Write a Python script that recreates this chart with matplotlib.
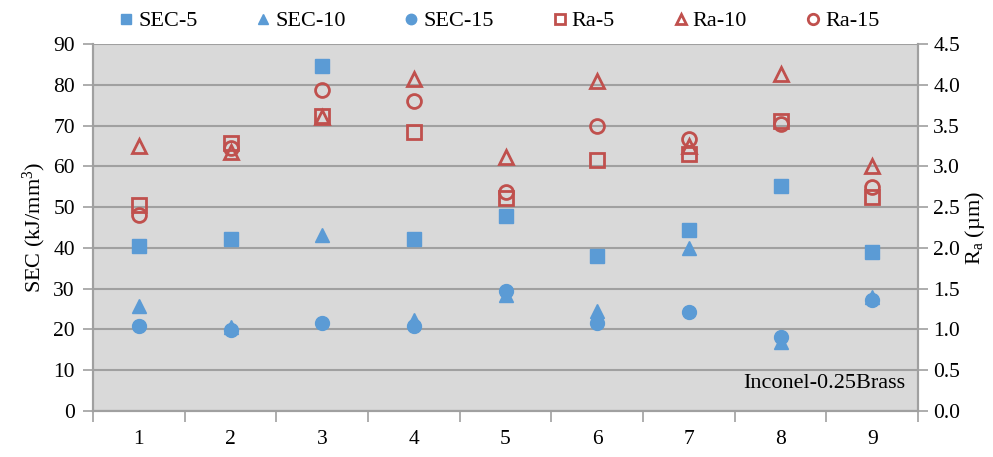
import matplotlib.pyplot as plt
import numpy as np

plt.rcParams['font.family'] = ['Liberation Serif', 'DejaVu Serif']
plt.rcParams['mathtext.default'] = 'regular'

# data
runs = [1, 2, 3, 4, 5, 6, 7, 8, 9]
sec_5 = [40.4, 42.2, 84.6, 42.1, 47.7, 37.9, 44.3, 55.1, 39.1]
sec_10 = [25.7, 20.5, 43.2, 22.3, 28.5, 24.4, 40.0, 17.0, 28.0]
sec_15 = [20.8, 19.9, 21.5, 20.9, 29.5, 21.5, 24.2, 18.2, 27.2]
ra_5 = [2.53, 3.29, 3.62, 3.42, 2.61, 3.08, 3.15, 3.55, 2.63]
ra_10 = [3.25, 3.18, 3.60, 4.07, 3.12, 4.05, 3.25, 4.13, 3.00]
ra_15 = [2.40, 3.22, 3.94, 3.80, 2.68, 3.49, 3.33, 3.52, 2.75]

blue = '#5b9bd5'
red = '#c0504d'
grid_c = '#a0a0a0'

fig = plt.figure(figsize=(9.93, 4.57), dpi=100)
ax = fig.add_axes([0.0937, 0.1007, 0.8308, 0.803])
ax2 = ax.twinx()
ax.set_zorder(ax2.get_zorder() - 1)
ax2.patch.set_visible(False)
ax.set_facecolor('#d9d9d9')

h = []
h += ax.plot(runs, sec_5, 's', color=blue, ms=10, label='SEC-5')
h += ax.plot(runs, sec_10, '^', color=blue, ms=10, label='SEC-10')
h += ax.plot(runs, sec_15, 'o', color=blue, ms=10, label='SEC-15')
h += ax2.plot(runs, ra_5, 's', mfc='none', mec=red, mew=2, ms=10, label='Ra-5')
h += ax2.plot(runs, ra_10, '^', mfc='none', mec=red, mew=2, ms=10, label='Ra-10')
h += ax2.plot(runs, ra_15, 'o', mfc='none', mec=red, mew=2, ms=10, label='Ra-15')

ax.set_xlim(0.5, 9.5)
ax.set_ylim(0, 90)
ax2.set_ylim(0, 4.5)
ax.set_yticks(np.arange(0, 91, 10))
ax2.set_yticks(np.arange(0, 4.51, 0.5))
ax2.set_yticklabels(['%.1f' % v for v in np.arange(0, 4.51, 0.5)])
ax.set_xticks(runs)
ax.set_xticks(np.arange(0.5, 9.6, 1), minor=True)
ax.tick_params(axis='x', which='major', length=0, pad=14)
ax.tick_params(axis='x', which='minor', length=8, color=grid_c, width=1.2)
ax.tick_params(axis='y', length=7, color=grid_c, width=1.2, pad=6)
ax2.tick_params(axis='y', length=7, color=grid_c, width=1.2, pad=4)
for a in (ax, ax2):
    a.tick_params(labelsize=15.5)
ax.yaxis.grid(True, color=grid_c, lw=1.5)
ax.set_axisbelow(True)

for a in (ax, ax2):
    a.spines['top'].set_visible(False)
    for s in ('left', 'right', 'bottom'):
        a.spines[s].set_color(grid_c)
        a.spines[s].set_linewidth(1.5)

ax.set_ylabel('SEC (kJ/mm$^3$)', fontsize=16, labelpad=4)
ax2.set_ylabel('R$_a$ (µm)', fontsize=16, labelpad=2)

ax.text(0.985, 0.05, 'Inconel-0.25Brass', transform=ax.transAxes,
        ha='right', va='bottom', fontsize=16)

fig.legend(handles=h, loc='upper center', bbox_to_anchor=(0.5, 1.02), ncol=6,
           frameon=False, fontsize=16, handletextpad=0.0, columnspacing=2.4,
           markerscale=0.75, handlelength=1.1)

fig.savefig('out.png', dpi=100)
